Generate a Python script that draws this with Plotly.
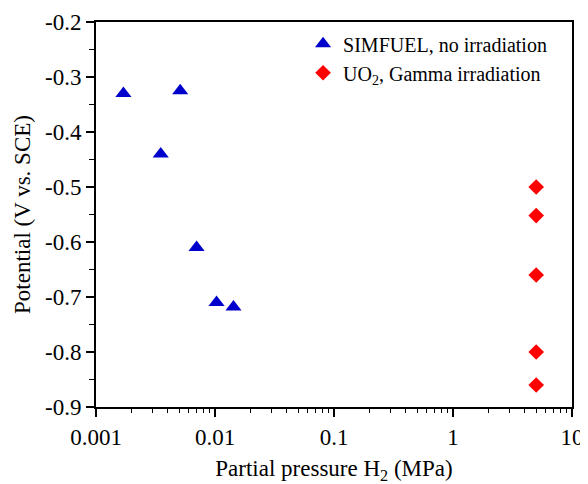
import plotly.graph_objects as go

simfuel_p = [0.0017, 0.0035, 0.0051, 0.007, 0.0103, 0.0143]
simfuel_v = [-0.33, -0.44, -0.325, -0.61, -0.71, -0.718]

uo2_p = [5, 5, 5, 5, 5]
uo2_v = [-0.50, -0.552, -0.66, -0.80, -0.86]

x_tickvals = [0.001, 0.01, 0.1, 1, 10]
x_ticktext = ["0.001", "0.01", "0.1", "1", "10"]
x_minor = [m * 10.0 ** e for e in range(-3, 1) for m in range(2, 10)]
y_tickvals = [-0.9, -0.8, -0.7, -0.6, -0.5, -0.4, -0.3, -0.2]
y_ticktext = ["-0.9", "-0.8", "-0.7", "-0.6", "-0.5", "-0.4", "-0.3", "-0.2"]

font = "Liberation Serif, Times New Roman, serif"

fig = go.Figure()
fig.add_trace(go.Scatter(x=simfuel_p, y=simfuel_v, mode="markers",
                         name="SIMFUEL, no irradiation",
                         marker=dict(symbol="triangle-up", size=14, color="#0000CC")))
fig.add_trace(go.Scatter(x=uo2_p, y=uo2_v, mode="markers",
                         name="UO<sub>2</sub>, Gamma irradiation",
                         marker=dict(symbol="diamond", size=12, color="#FF0000")))

axis_common = dict(
    ticks="outside", ticklen=8, tickwidth=1.5, tickcolor="black",
    showline=True, linecolor="black", linewidth=1.8, mirror=True,
    showgrid=False, zeroline=False, automargin=False,
    tickfont=dict(size=23, family=font, color="black"),
)

fig.update_layout(
    width=580, height=476,
    margin=dict(l=88, r=16, t=14, b=77),
    paper_bgcolor="white", plot_bgcolor="white",
    font=dict(family=font, size=23, color="black"),
    showlegend=True,
    legend=dict(x=0.435, y=0.994, xanchor="left", yanchor="top",
                bgcolor="rgba(0,0,0,0)", font=dict(size=20, family=font),
                itemsizing="trace"),
    xaxis=dict(type="log", range=[-3, 1], tickvals=x_tickvals, ticktext=x_ticktext,
               minor=dict(ticks="outside", ticklen=4, tickcolor="black", tickwidth=1.2,
                          tickvals=x_minor, showgrid=False),
               title=dict(text="Partial pressure H<sub>2</sub> (MPa)", standoff=14,
                          font=dict(size=23, family=font)),
               **axis_common),
    yaxis=dict(range=[-0.9, -0.2], tickvals=y_tickvals, ticktext=y_ticktext,
               minor=dict(ticks="outside", ticklen=5, tickcolor="black", tickwidth=1.2,
                          dtick=0.05, showgrid=False),
               title=dict(text="Potential (V vs. SCE)", standoff=8,
                          font=dict(size=23, family=font)),
               **axis_common),
)

fig.write_html("out.html")
